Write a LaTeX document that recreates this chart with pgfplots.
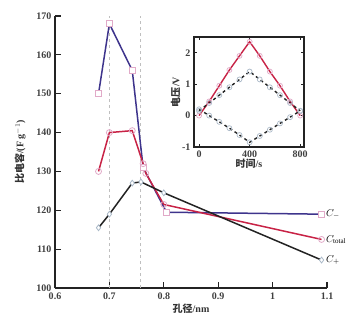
\documentclass[border=0pt]{standalone}
\usepackage{pgfplots}
\pgfplotsset{compat=1.18}
\usepackage{fontspec}
\setmainfont{Liberation Serif}
\newfontfamily\cjk{Noto Sans CJK SC}
\definecolor{cblue}{RGB}{62,52,140}
\definecolor{cred}{RGB}{200,35,70}
\definecolor{cblack}{RGB}{35,35,35}
\definecolor{mk}{RGB}{225,170,200}
\definecolor{mkb}{RGB}{170,185,200}
\begin{document}
\begin{tikzpicture}
\begin{axis}[
  name=main,
  scale only axis, width=272pt, height=272pt,
  xmin=0.6, xmax=1.1, ymin=100, ymax=170,
  axis x line=bottom, axis y line=left,
  axis line style={-, line width=1.4pt, cblack},
  tick align=inside, major tick length=6pt,
  tick style={line width=1.1pt, cblack},
  xtick={0.6,0.7,0.8,0.9,1,1.1},
  xticklabels={0.6,0.7,0.8,0.9,1,1.1},
  ytick={100,110,...,170},
  /pgf/number format/assume math mode=true,
  tick label style={font=\normalsize\bfseries, text=black!75},
  xticklabel style={yshift=-1pt},
  xlabel={{\cjk\bfseries 孔径}/nm},
  ylabel={{\cjk\bfseries 比电容}/(F g$^{-1}$)},
  label style={font=\normalsize\bfseries, text=black!80},
  ylabel style={yshift=4pt},
  xlabel style={yshift=2pt},
  clip=false,
]
\addplot[gray!50, dashed, line width=0.9pt, forget plot] coordinates {(0.7,100) (0.7,170)};
\addplot[gray!50, dashed, line width=0.9pt, forget plot] coordinates {(0.757,100) (0.757,170)};
% C- (blue squares)
\addplot[cblue, line width=1.5pt, mark=square*, mark size=2.9pt, mark options={fill=white, draw=mk, line width=0.8pt}]
 coordinates {(0.68,150) (0.70,168) (0.742,156) (0.762,131) (0.805,119.5) (1.09,119)};
% C total (red circles)
\addplot[cred, line width=1.5pt, mark=o, mark size=3pt, mark options={fill=white, draw=mk, line width=0.8pt}]
 coordinates {(0.68,130) (0.70,140) (0.742,140.5) (0.762,132) (0.767,129.5) (0.80,121.5) (1.09,112.5)};
% C+ (black diamonds)
\addplot[cblack, line width=1.5pt, mark=diamond*, mark size=2.9pt, mark options={fill=white, draw=mkb, line width=0.8pt}]
 coordinates {(0.68,115.5) (0.70,119) (0.742,127) (0.758,127.3) (0.80,124.5) (1.09,107.2)};
\node[anchor=west, font=\normalsize\bfseries, inner sep=1pt] at (axis cs:1.096,119) {$C_{-}$};
\node[anchor=west, font=\normalsize\bfseries, inner sep=1pt] at (axis cs:1.096,112.5) {$C_{\mathrm{total}}$};
\node[anchor=west, font=\normalsize\bfseries, inner sep=1pt] at (axis cs:1.096,107.2) {$C_{+}$};
\path (rel axis cs:0,0) ++(-55pt,-36pt) coordinate (bbA);
\path (rel axis cs:1,1) ++(30pt,16pt) coordinate (bbB);
\end{axis}
\begin{axis}[
  at={(139pt,141pt)}, anchor=south west,
  scale only axis, width=110pt, height=110pt,
  xmin=-40, xmax=830, ymin=-1, ymax=2.5,
  axis line style={line width=1.4pt, cblack},
  tick align=inside, major tick length=3pt,
  tick style={line width=0.9pt, cblack},
  xtick={0,400,800}, ytick={-1,0,1,2},
  /pgf/number format/assume math mode=true,
  tick label style={font=\normalsize\bfseries, text=black!75},
  xlabel={{\cjk\bfseries 时间}/s},
  ylabel={{\cjk\bfseries 电压}/V},
  label style={font=\normalsize\bfseries, text=black!80},
  xlabel style={yshift=5pt},
  ylabel style={yshift=-5pt},
  axis background/.style={fill=white},
]
\addplot[cred, line width=1.4pt, mark=o, mark size=2.5pt, mark options={draw=mk, fill=white, line width=0.7pt, solid}]
 coordinates {(0,0) (80,0.45) (160,0.95) (240,1.45) (320,1.9) (400,2.35) (480,1.9) (560,1.4) (640,0.95) (720,0.45) (800,0.0)};
\addplot[cblack, dashed, line width=1.4pt, mark=o, mark size=2.5pt, mark options={draw=mkb, fill=white, line width=0.7pt, solid}]
 coordinates {(0,0.15) (80,0.4) (160,0.65) (240,0.9) (320,1.15) (400,1.4) (480,1.15) (560,0.9) (640,0.65) (720,0.4) (800,0.15)};
\addplot[cblack, dashed, line width=1.4pt, mark=o, mark size=2.5pt, mark options={draw=mkb, fill=white, line width=0.7pt, solid}]
 coordinates {(0,0.2) (80,-0.0) (160,-0.2) (240,-0.4) (320,-0.62) (400,-0.85) (480,-0.65) (560,-0.45) (640,-0.25) (720,-0.05) (800,0.15)};
\end{axis}
\end{tikzpicture}
\end{document}
